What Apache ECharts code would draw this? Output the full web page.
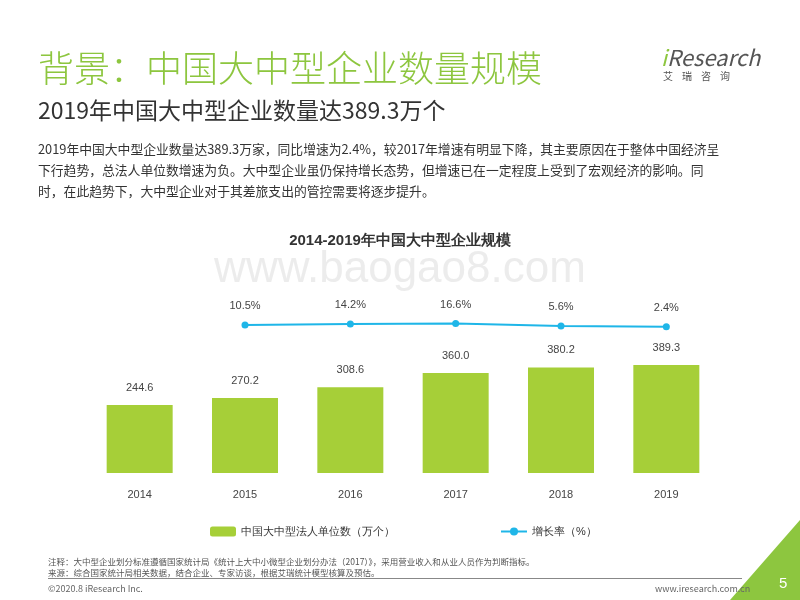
<!DOCTYPE html>
<html lang="zh">
<head>
<meta charset="UTF-8"/>
<title>中国大中型企业规模</title>
<script src="https://cdn.jsdelivr.net/npm/echarts@6/dist/echarts.min.js"></script>
<style>
  body { margin:0; width:800px; height:600px; position:relative; overflow:hidden; background:#fff;
         font-family:"Noto Sans CJK SC","Noto Sans",sans-serif; color:#333; }
  .abs { position:absolute; white-space:nowrap; }
  #chart { position:absolute; left:0; top:0; width:800px; height:600px; }
</style>
</head>
<body>
<div id="chart"></div>
<div class="abs" style="left:38px;top:40px;font-size:36px;font-weight:300;color:#8dc63f;">背景：中国大中型企业数量规模</div>
<div class="abs" style="left:38px;top:92px;font-size:23px;color:#333;">2019年中国大中型企业数量达389.3万个</div>
<div class="abs" style="left:38px;top:138px;font-size:12.8px;line-height:21px;color:#333;white-space:normal;width:722px;">2019年中国大中型企业数量达389.3万家，同比增速为2.4%，较2017年增速有明显下降，其主要原因在于整体中国经济呈<br>下行趋势，总法人单位数增速为负。大中型企业虽仍保持增长态势，但增速已在一定程度上受到了宏观经济的影响。同<br>时，在此趋势下，大中型企业对于其差旅支出的管控需要将逐步提升。</div>
<div class="abs" style="left:661px;top:40px;font-size:22px;color:#555;font-style:italic;"><span style="color:#8dc63f">i</span>Research</div>
<div class="abs" style="left:663px;top:68px;font-size:10px;color:#555;letter-spacing:9px;">艾瑞咨询</div>
<div class="abs" style="left:48px;top:555px;font-size:8.5px;color:#555;">注释：大中型企业划分标准遵循国家统计局《统计上大中小微型企业划分办法（2017）》，采用营业收入和从业人员作为判断指标。</div>
<div class="abs" style="left:48px;top:566px;font-size:8.5px;color:#555;">来源：综合国家统计局相关数据，结合企业、专家访谈，根据艾瑞统计模型核算及预估。</div>
<div class="abs" style="left:48px;top:578px;width:694px;border-top:1px solid #888;"></div>
<div class="abs" style="left:48px;top:582px;font-size:9px;color:#666;">©2020.8 iResearch Inc.</div>
<div class="abs" style="left:655px;top:582px;font-size:9px;color:#666;">www.iresearch.com.cn</div>
<script>
var years = ['2014', '2015', '2016', '2017', '2018', '2019'];
var units = [244.6, 270.2, 308.6, 360.0, 380.2, 389.3];
var growth = [null, 10.5, 14.2, 16.6, 5.6, 2.4];

var chart = echarts.init(document.getElementById('chart'));
chart.setOption({
  animation: false,
  title: { text: '2014-2019年中国大中型企业规模', left: 'center', top: 228,
           textStyle: { fontSize: 15, fontWeight: 'bold', color: '#333' } },
  graphic: [
    { type: 'text', left: 'center', top: 248, z: 0,
      style: { text: 'www.baogao8.com', fontSize: 44, fill: 'rgba(200,200,200,0.35)' } },
    { type: 'polygon', shape: { points: [[800, 520], [800, 600], [730, 600]] }, style: { fill: '#8dc63f' } },
    { type: 'text', left: 779, top: 576, style: { text: '5', fontSize: 15, fill: '#fff' } }
  ],
  legend: [
    { data: ['中国大中型法人单位数（万个）'], left: 205, top: 521, itemWidth: 26, itemHeight: 10,
      textStyle: { fontSize: 11, color: '#333' } },
    { data: ['增长率（%）'], left: 495, top: 521, itemWidth: 26, itemHeight: 10,
      textStyle: { fontSize: 11, color: '#333' } }
  ],
  grid: [
    { left: 87, right: 81, top: 251, bottom: 127 },
    { left: 87, right: 81, top: 310, bottom: 260 }
  ],
  xAxis: [
    { type: 'category', data: years, gridIndex: 0,
      axisLine: { show: false }, axisTick: { show: false },
      axisLabel: { color: '#444', fontSize: 11, margin: 16 } },
    { type: 'category', data: years, gridIndex: 1, show: false }
  ],
  yAxis: [
    { type: 'value', gridIndex: 0, min: 0, max: 800, show: false },
    { type: 'value', gridIndex: 1, min: -60, max: 80, show: false }
  ],
  series: [
    { name: '中国大中型法人单位数（万个）', type: 'bar', data: units, barWidth: 66,
      xAxisIndex: 0, yAxisIndex: 0, itemStyle: { color: '#a6cf38' },
      label: { show: true, position: 'top', distance: 12, color: '#444', fontSize: 11,
               formatter: function (p) { return p.value.toFixed(1); } } },
    { name: '增长率（%）', type: 'line', data: growth, xAxisIndex: 1, yAxisIndex: 1,
      symbol: 'circle', symbolSize: 7, lineStyle: { color: '#1fb6e8', width: 2 },
      itemStyle: { color: '#1fb6e8' },
      label: { show: true, position: 'top', distance: 10, color: '#444', fontSize: 11,
               formatter: function (p) { return p.value.toFixed(1) + '%'; } } }
  ]
});
</script>
</body>
</html>
